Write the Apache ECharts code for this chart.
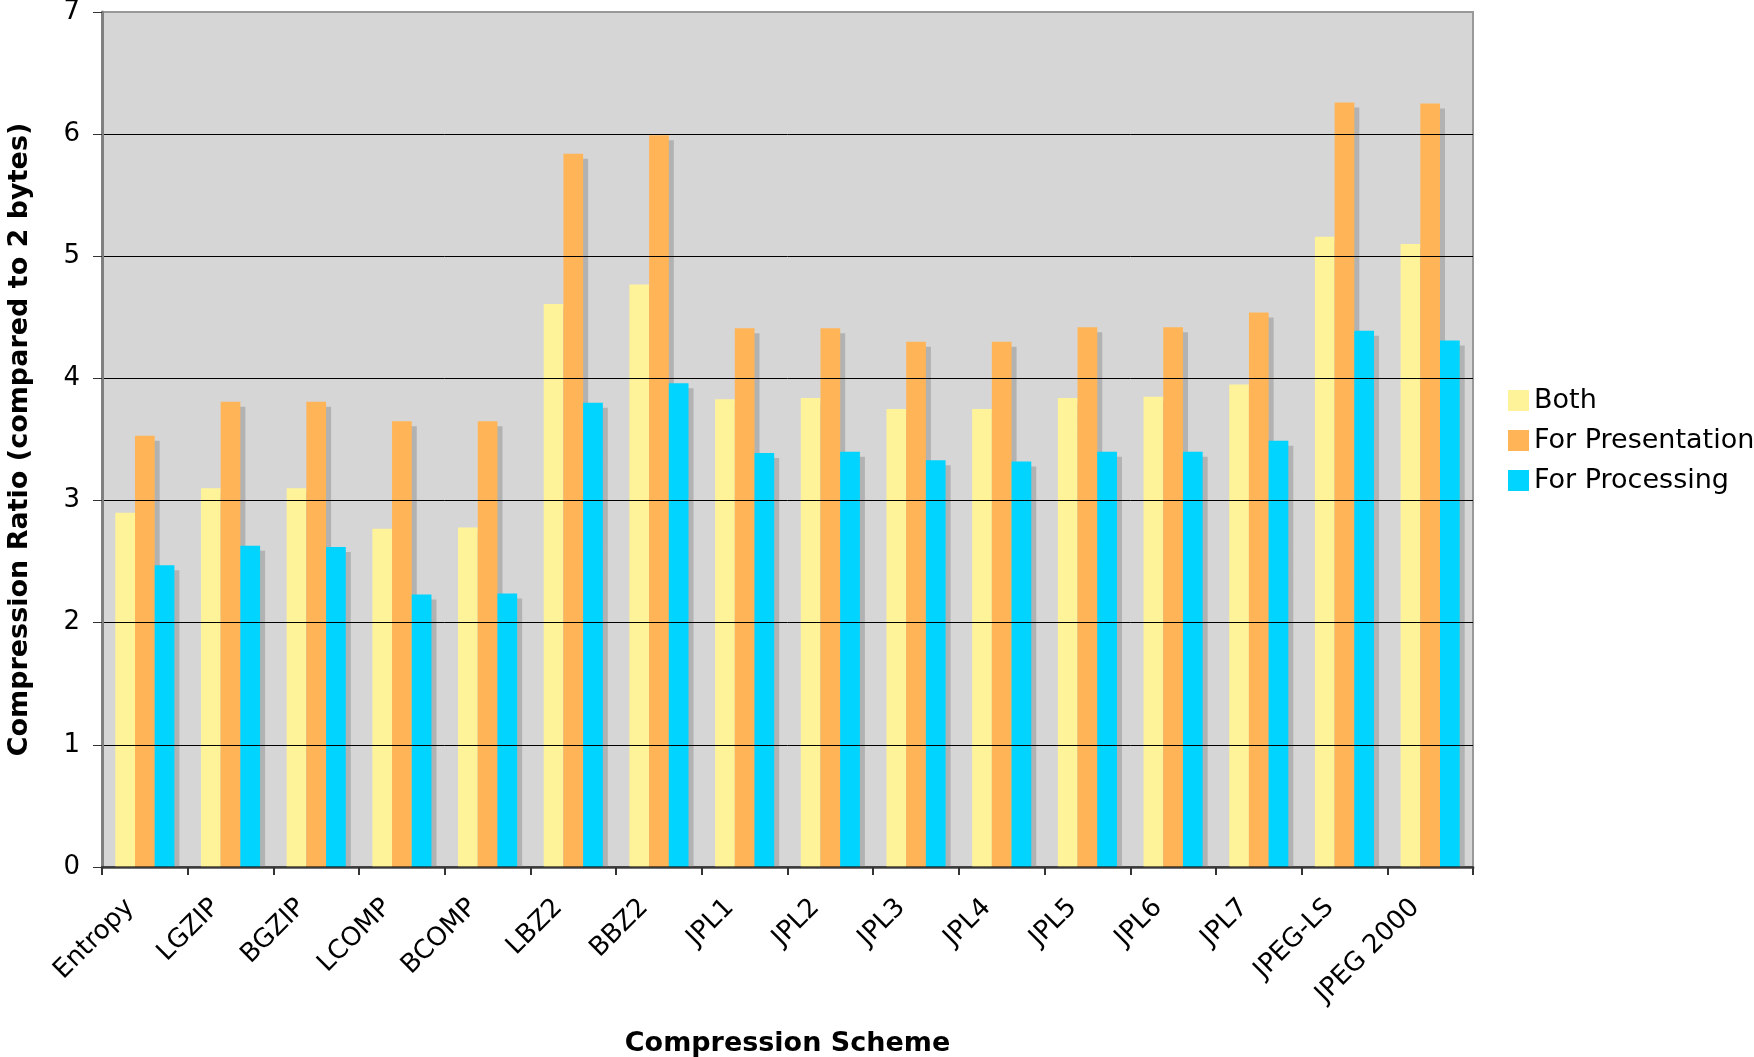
<!DOCTYPE html>
<html>
<head>
<meta charset="utf-8">
<script src="https://cdn.jsdelivr.net/npm/echarts@6/dist/echarts.min.js"></script>
<style>
  html, body { margin: 0; padding: 0; background: #ffffff; }
  #chart { width: 1754px; height: 1057px; }
</style>
</head>
<body>
<div id="chart"></div>
<script>
// 数据
const categories = ['Entropy', 'LGZIP', 'BGZIP', 'LCOMP', 'BCOMP', 'LBZ2', 'BBZ2', 'JPL1', 'JPL2',
  'JPL3', 'JPL4', 'JPL5', 'JPL6', 'JPL7', 'JPEG-LS', 'JPEG 2000'];
const both = [2.90, 3.10, 3.10, 2.77, 2.78, 4.61, 4.77, 3.83, 3.84, 3.75, 3.75, 3.84, 3.85, 3.95, 5.16, 5.10];
const presentation = [3.53, 3.81, 3.81, 3.65, 3.65, 5.84, 5.99, 4.41, 4.41, 4.30, 4.30, 4.42, 4.42, 4.54, 6.26, 6.25];
const processing = [2.47, 2.63, 2.62, 2.23, 2.24, 3.80, 3.96, 3.39, 3.40, 3.33, 3.32, 3.40, 3.40, 3.49, 4.39, 4.31];

const font = '"DejaVu Sans", Verdana, sans-serif';

const myChart = echarts.init(document.getElementById('chart'));

// 柱子样式（带灰色投影，large 模式下按网格裁剪）
const barSeries = (name, data, color) => ({
  name: name,
  type: 'bar',
  data: data,
  large: true,
  largeThreshold: 1,
  clip: true,
  barGap: '0%',
  barCategoryGap: '31%',
  itemStyle: {
    color: color,
    shadowColor: '#b2b2b2',
    shadowBlur: 0,
    shadowOffsetX: 5,
    shadowOffsetY: 5
  }
});

const option = {
  backgroundColor: '#ffffff',
  animation: false,
  textStyle: { fontFamily: font },
  legend: {
    orient: 'vertical',
    left: 1503,
    top: 382,
    icon: 'rect',
    itemWidth: 21,
    itemHeight: 21,
    itemGap: 13,
    textStyle: { color: '#000', fontSize: 27, lineHeight: 24, fontFamily: font },
    data: ['Both', 'For Presentation', 'For Processing']
  },
  grid: {
    left: 102,
    right: 281,
    top: 12,
    bottom: 190,
    outerBoundsMode: 'none',
    show: true,
    backgroundColor: '#d6d6d6',
    borderColor: '#999999',
    borderWidth: 2
  },
  xAxis: {
    type: 'category',
    data: categories,
    z: 5,
    name: 'Compression Scheme',
    nameLocation: 'middle',
    nameGap: 163,
    nameTextStyle: { fontSize: 27, fontWeight: 'bold', color: '#000', fontFamily: font },
    axisLine: { lineStyle: { color: 'rgba(0,0,0,0.55)', width: 3 } },
    axisTick: { show: true, length: 8, lineStyle: { color: '#333', width: 2 } },
    axisLabel: {
      rotate: 45,
      interval: 0,
      margin: 40,
      verticalAlign: 'bottom',
      padding: [0, 8, 0, 0],
      fontSize: 26,
      color: '#000',
      fontFamily: font
    }
  },
  yAxis: {
    type: 'value',
    min: 0,
    max: 7,
    interval: 1,
    z: 5,
    name: 'Compression Ratio (compared to 2 bytes)',
    nameLocation: 'middle',
    nameGap: 69,
    nameTextStyle: { fontSize: 27, fontWeight: 'bold', color: '#000', fontFamily: font },
    axisLine: { show: true, lineStyle: { color: '#808080', width: 3 } },
    axisTick: { show: true, length: 9, lineStyle: { color: '#333' } },
    axisLabel: { fontSize: 26, color: '#000', margin: 22, fontFamily: font },
    splitLine: {
      lineStyle: {
        color: ['#808080', '#000', '#000', '#000', '#000', '#000', '#000', '#999999'],
        width: 1
      }
    }
  },
  series: [
    barSeries('Both', both, '#fff399'),
    barSeries('For Presentation', presentation, '#ffb557'),
    barSeries('For Processing', processing, '#00d4ff')
  ]
};

myChart.setOption(option);
</script>
</body>
</html>
